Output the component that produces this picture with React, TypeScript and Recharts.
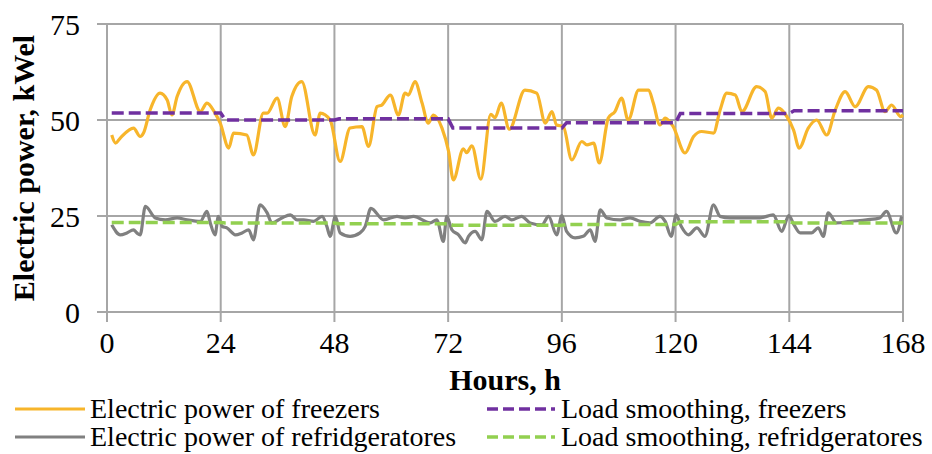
import { LineChart, Line, XAxis, YAxis, CartesianGrid, Label } from "recharts";

// hourly load of freezers / refrigerators over one week
const freezerHours = [
  1, 1.8, 2.8, 5.6, 7, 7.7, 9.1, 11.2, 12.7, 13.7, 14.8, 16.9, 19.7, 21.1, 22.8, 23.9,
  25.7, 26.7, 29.5, 30.9, 33, 33.8, 35.9, 37.6, 39, 41.1, 43.9, 45, 47.1,
  49.2, 51.3, 53.8, 55.2, 57, 58, 59.8, 61.5, 62.9, 63.6, 65, 66.5, 67.8, 68.9, 70.7,
  72.1, 73.1, 75.2, 75.9, 77, 78.9, 81, 81.9, 83.2, 84.9, 88.2, 90.7, 92.5, 93.9, 94.9, 96.3,
  98.1, 100.2, 101.3, 102.7, 103.9, 105.8, 107.2, 108.6, 110, 112.2, 114.3, 115.3, 116.7, 117.8, 119.5,
  122, 123.8, 125.5, 128, 129.4, 130.8, 132.6, 134, 137.1, 138.9, 140.3, 141.7, 143.5,
  144.9, 146.1, 148, 149.8, 151.9, 153.7, 155.8, 157.9, 160.7, 162.4, 164.2, 165.6, 167.5, 168,
];
const freezerPower = [
  46.1, 44, 45.3, 47.9, 45.7, 46.6, 52.6, 57, 55.2, 51.3, 56.1, 60, 52.2, 54.4, 51.8, 49.2,
  42.7, 46.6, 46.1, 40.9, 51.8, 51.8, 55.7, 48.3, 56.1, 60, 46.1, 51.8, 50,
  39.2, 47.9, 48.3, 43.1, 53.5, 53.9, 56.5, 51.3, 57, 56.5, 60, 54.4, 49.2, 51.3, 47.9,
  41.8, 34.4, 42.5, 41.5, 43.3, 34.6, 51.5, 50.6, 54.4, 47.6, 57.8, 57, 49.2, 52.2, 48.7, 48.3,
  39.6, 44.4, 43.5, 44, 38.8, 50.5, 52.2, 55.7, 50, 57.8, 57.8, 54.4, 48.7, 50.5, 48.3,
  41.4, 45.7, 47, 46.6, 52.6, 57, 56.5, 52.2, 58.7, 57.4, 50.5, 53.1, 50.9,
  47.4, 42.7, 47.9, 50, 46.1, 52.6, 57.4, 53.5, 58.7, 57.8, 52.2, 53.9, 50.9, 51.3,
];

const fridgeHours = [
  1, 2.8, 4.2, 5.6, 6.3, 7, 8.1, 10.2, 12.3, 14.8, 16.9, 19.7, 21.1, 21.8, 22.8, 23.5,
  24.3, 25.3, 27.1, 28.5, 29.9, 30.9, 32.3, 33.8, 34.8, 36.9, 38.7, 40.1, 41.5, 43.6, 45.4, 46.4, 47.1,
  48.2, 49.2, 51.3, 53.4, 54.5, 55.7, 58.4, 61.2, 62.9, 64.7, 68.2, 69.6, 71, 71.7,
  72.8, 74.2, 75.6, 76.3, 77.7, 79.1, 80.2, 81.9, 84, 85.4, 87.5, 89.3, 91.8, 93.2, 94.9,
  96, 97, 98.8, 100.5, 102, 103, 104.1, 105.5, 108.3, 110.4, 112.5, 114.6, 116.7, 117.8, 119.1,
  120.1, 121.2, 122.7, 124.5, 126.2, 128, 129.4, 131.5, 135, 137.8, 140.6, 142.4,
  143.9, 145, 146.3, 148.7, 150.1, 151.2, 152.2, 154, 156.8, 160.3, 163.1, 164.5, 166.6, 167.7,
];
const fridgePower = [
  22.7, 20.1, 20.6, 21.4, 20.6, 20.1, 27.5, 24.5, 24, 24.5, 24, 23.6, 26.2, 23.2, 20.1, 24.9,
  22.3, 21.9, 20.1, 20.6, 21.4, 18.8, 27.9, 25.8, 23.2, 24.5, 25.3, 24, 24, 23.6, 24.9, 22.3, 19.7,
  24.9, 20.6, 19.7, 20.6, 22.3, 27, 24, 24.9, 24.5, 24.9, 23.2, 24, 18.4, 24.9,
  21.4, 20.1, 18, 19.7, 21, 18.8, 26.2, 23.6, 24.9, 24, 24.9, 23.2, 22.7, 24.9, 20.1,
  25.1, 21, 19.3, 19.7, 21.4, 18.4, 26.6, 24.5, 24, 24.5, 23.6, 23.2, 24.9, 23.6, 19.7,
  25.3, 22.3, 20.1, 21.9, 19.7, 27.9, 24.9, 24.5, 24.5, 24.5, 25.3, 21,
  25.1, 22.7, 20.6, 20.6, 21.9, 19.7, 25.8, 23.2, 23.6, 24, 24.5, 26.2, 20.6, 24.9,
];

// daily averages (load smoothing)
const smoothHours = [1, 24, 25, 48, 49, 72, 73, 96, 97, 120, 121, 144, 145, 168];
const smoothFreezer = [51.8, 51.8, 50, 50, 50.3, 50.3, 47.9, 47.9, 49.3, 49.3, 51.7, 51.7, 52.4, 52.4];
const smoothFridge = [23.3, 23.3, 23.2, 23.2, 23.0, 23.0, 22.6, 22.6, 22.8, 22.8, 23.5, 23.5, 23.2, 23.2];

const xTicks = [0, 24, 48, 72, 96, 120, 144, 168];
const yTicks = [0, 25, 50, 75];

const zip = (hours: number[], values: number[]) => hours.map((h, i) => ({ hour: h, value: values[i] }));

const freezerData = zip(freezerHours, freezerPower);
const fridgeData = zip(fridgeHours, fridgePower);
const smoothFreezerData = zip(smoothHours, smoothFreezer);
const smoothFridgeData = zip(smoothHours, smoothFridge);

const FONT = '"Liberation Serif", "Times New Roman", serif';
const GRID = "#a6a6a6";

const legendItems = [
  { name: "Electric power of freezers", color: "#F7B52B", dash: false, col: 0, row: 0 },
  { name: "Load smoothing, freezers", color: "#7030A0", dash: true, col: 1, row: 0 },
  { name: "Electric power of refridgeratores", color: "#808080", dash: false, col: 0, row: 1 },
  { name: "Load smoothing, refridgeratores", color: "#92D050", dash: true, col: 1, row: 1 },
];

function ChartLegend() {
  return (
    <div style={{ position: "absolute", left: 0, top: 397, width: 932, height: 57, fontFamily: FONT, fontSize: 28, color: "#000" }}>
      {legendItems.map((it) => (
        <div
          key={it.name}
          style={{
            position: "absolute",
            left: it.col === 0 ? 15 : 487,
            top: it.row * 28,
            height: 24,
            display: "flex",
            alignItems: "center",
            whiteSpace: "nowrap",
          }}
        >
          <svg width={72} height={10} style={{ marginRight: it.col === 0 ? 3 : 2 }}>
            <line
              x1={0}
              y1={5}
              x2={it.dash ? 68 : 70}
              y2={5}
              stroke={it.color}
              strokeWidth={it.dash ? 3.5 : 3.2}
              strokeDasharray={it.dash ? "11 5" : undefined}
            />
          </svg>
          <span style={{ lineHeight: "24px" }}>{it.name}</span>
        </div>
      ))}
    </div>
  );
}

export default function App() {
  return (
    <div style={{ position: "absolute", left: 0, top: 0, width: 932, height: 454, background: "#fff" }}>
      <LineChart width={932} height={454} margin={{ top: 24, right: 29, bottom: 0, left: 0 }}>
        <CartesianGrid stroke={GRID} strokeWidth={2} />
        <XAxis
          dataKey="hour"
          type="number"
          domain={[0, 168]}
          ticks={xTicks}
          allowDuplicatedCategory={false}
          height={142}
          stroke={GRID}
          strokeWidth={2}
          tickSize={10}
          tickMargin={10}
          tick={{ fill: "#000", fontSize: 30, fontFamily: FONT }}
        >
          <Label
            content={({ viewBox }: any) => (
              <text
                x={viewBox.x + viewBox.width / 2}
                y={viewBox.y + 78}
                textAnchor="middle"
                fontFamily={FONT}
                fontWeight="bold"
                fontSize={30}
                fill="#000"
              >
                Hours, h
              </text>
            )}
          />
        </XAxis>
        <YAxis
          type="number"
          domain={[0, 75]}
          ticks={yTicks}
          width={107}
          stroke={GRID}
          strokeWidth={2}
          tickSize={10}
          tickMargin={17}
          tick={{ fill: "#000", fontSize: 30, fontFamily: FONT }}
        >
          <Label
            content={({ viewBox }: any) => {
              const cx = 34;
              const cy = viewBox.y + viewBox.height / 2;
              return (
                <text
                  x={cx}
                  y={cy}
                  transform={`rotate(-90, ${cx}, ${cy})`}
                  textAnchor="middle"
                  fontFamily={FONT}
                  fontWeight="bold"
                  fontSize={30}
                  fill="#000"
                >
                  Electric power, kWel
                </text>
              );
            }}
          />
        </YAxis>
        <Line data={freezerData} dataKey="value" type="monotone" stroke="#F7B52B" strokeWidth={3.2} dot={false} isAnimationActive={false} />
        <Line data={fridgeData} dataKey="value" type="monotone" stroke="#808080" strokeWidth={3.2} dot={false} isAnimationActive={false} />
        <Line data={smoothFreezerData} dataKey="value" type="linear" stroke="#7030A0" strokeWidth={3.5} strokeDasharray="12 5" dot={false} isAnimationActive={false} />
        <Line data={smoothFridgeData} dataKey="value" type="linear" stroke="#92D050" strokeWidth={3.5} strokeDasharray="12 5" dot={false} isAnimationActive={false} />
      </LineChart>
      <ChartLegend />
    </div>
  );
}
